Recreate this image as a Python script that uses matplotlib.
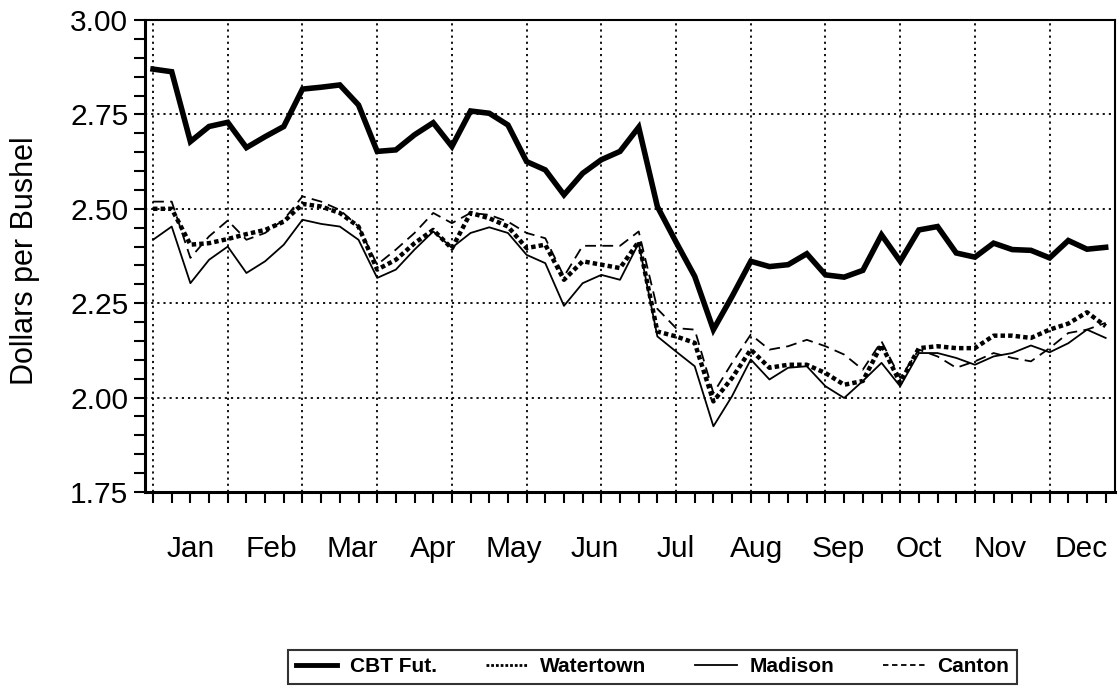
import numpy as np
import matplotlib
matplotlib.use('Agg')
import matplotlib.pyplot as plt
from matplotlib.ticker import FixedLocator, MultipleLocator, FuncFormatter, NullFormatter
from matplotlib.lines import Line2D

# weekly cash / futures prices, dollars per bushel
weeks = np.arange(52)
months = ['Jan', 'Feb', 'Mar', 'Apr', 'May', 'Jun', 'Jul', 'Aug', 'Sep', 'Oct', 'Nov', 'Dec']

cbt = [2.870, 2.863, 2.678, 2.718, 2.729, 2.662, 2.691, 2.718, 2.817, 2.822,
       2.828, 2.775, 2.652, 2.656, 2.696, 2.728, 2.665, 2.759, 2.753, 2.722,
       2.625, 2.603, 2.537, 2.594, 2.630, 2.652, 2.716, 2.506, 2.412, 2.321,
       2.180, 2.268, 2.361, 2.347, 2.352, 2.381, 2.325, 2.319, 2.337, 2.431,
       2.361, 2.444, 2.453, 2.383, 2.372, 2.409, 2.392, 2.390, 2.370, 2.416,
       2.393, 2.398]
watertown = [2.500, 2.500, 2.405, 2.409, 2.420, 2.433, 2.444, 2.466, 2.513, 2.506,
             2.489, 2.453, 2.339, 2.365, 2.409, 2.444, 2.395, 2.489, 2.475, 2.453,
             2.396, 2.405, 2.312, 2.361, 2.352, 2.343, 2.413, 2.175, 2.162, 2.145,
             1.990, 2.052, 2.127, 2.079, 2.087, 2.087, 2.065, 2.034, 2.044, 2.140,
             2.039, 2.131, 2.136, 2.131, 2.131, 2.164, 2.164, 2.158, 2.180, 2.196,
             2.226, 2.189]
madison = [2.418, 2.453, 2.303, 2.365, 2.400, 2.330, 2.361, 2.405, 2.471, 2.460,
           2.453, 2.418, 2.317, 2.339, 2.392, 2.440, 2.397, 2.436, 2.451, 2.436,
           2.378, 2.356, 2.243, 2.303, 2.325, 2.312, 2.409, 2.162, 2.122, 2.083,
           1.924, 2.004, 2.101, 2.048, 2.079, 2.083, 2.030, 1.999, 2.044, 2.092,
           2.030, 2.118, 2.118, 2.105, 2.087, 2.109, 2.118, 2.138, 2.120, 2.144,
           2.180, 2.158]
canton = [2.519, 2.519, 2.370, 2.427, 2.469, 2.418, 2.436, 2.471, 2.533, 2.519,
          2.497, 2.453, 2.352, 2.392, 2.436, 2.489, 2.462, 2.489, 2.484, 2.466,
          2.436, 2.422, 2.321, 2.402, 2.402, 2.402, 2.440, 2.235, 2.184, 2.180,
          2.012, 2.092, 2.167, 2.127, 2.136, 2.153, 2.136, 2.114, 2.074, 2.149,
          2.052, 2.127, 2.109, 2.079, 2.096, 2.118, 2.105, 2.096, 2.131, 2.171,
          2.180, 2.198]

plt.rcParams['font.family'] = ['Liberation Sans', 'DejaVu Sans']

fig = plt.figure(figsize=(11.18, 6.94), dpi=100)
ax = fig.add_axes([145/1118, 1 - 492/694, 970/1118, 472/694])

ax.plot(weeks, cbt, color='black', lw=4, solid_joinstyle='miter', zorder=5)
ax.plot(weeks, watertown, color='black', lw=3.2, linestyle=(0, (1, 0.7)), zorder=4)
ax.plot(weeks, madison, color='black', lw=1.3, zorder=3)
ax.plot(weeks, canton, color='black', lw=1.3, linestyle=(0, (6, 3.5)), zorder=3)

ax.set_xlim(-0.43, 51.5)
ax.set_ylim(1.75, 3.00)

# grid every 4 weeks, a tick every week
ax.xaxis.set_major_locator(FixedLocator(np.arange(0, 52, 4)))
ax.xaxis.set_major_formatter(NullFormatter())
ax.xaxis.set_minor_locator(FixedLocator([w for w in weeks if w % 4 != 0]))
ax.tick_params(axis='x', which='both', direction='out', length=8, width=1.5)

# month names spread over the calendar year (52/12 weeks per month)
month_pos = 2 + np.arange(12) * 52 / 12
sec = ax.secondary_xaxis('bottom')
sec.set_xticks(month_pos, months)
sec.tick_params(axis='x', length=0, labelsize=21.5, pad=31)
sec.spines['bottom'].set_visible(False)

ax.yaxis.set_major_locator(MultipleLocator(0.25))
ax.yaxis.set_minor_locator(MultipleLocator(0.05))
ax.yaxis.set_major_formatter(FuncFormatter(lambda v, p: '%.2f' % v))
ax.tick_params(axis='y', which='both', direction='out', length=8, width=1.5,
               labelsize=21.5, pad=4)

ax.grid(True, which='major', color='black', linestyle=(0, (1.2, 2.2)), lw=1.3)

for s in ax.spines.values():
    s.set_linewidth(1.5)
ax.spines['left'].set_linewidth(2.2)
ax.spines['bottom'].set_linewidth(2.2)

ax.set_ylabel('Dollars per Bushel', fontsize=22)
ax.yaxis.set_label_coords(-0.108, 0.49)

handles = [Line2D([], [], color='black', lw=3.5),
           Line2D([], [], color='black', lw=2, linestyle=(0, (1, 0.7))),
           Line2D([], [], color='black', lw=1.3),
           Line2D([], [], color='black', lw=1.3, linestyle=(0, (3, 2)))]
labels = ['CBT Fut.', 'Watertown', 'Madison', 'Canton']
leg = fig.legend(handles, labels, loc='center', ncol=4, mode='expand',
                 bbox_to_anchor=(278/1118, 7/694, 749/1118, 40/694),
                 frameon=True, fancybox=False, edgecolor='black',
                 prop={'size': 15, 'weight': 'bold'}, handlelength=2.0,
                 handletextpad=0.6, borderpad=0.35)
leg.get_frame().set_linewidth(1.5)

fig.savefig('out.png', dpi=100)
